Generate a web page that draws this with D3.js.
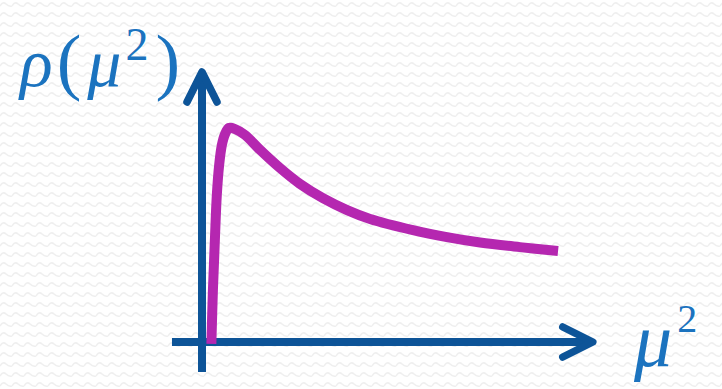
<!DOCTYPE html>
<html>
<head>
<meta charset="utf-8">
<script src="https://cdn.jsdelivr.net/npm/d3@7"></script>
<style>
  html, body { margin: 0; padding: 0; background: #ffffff; }
  svg { display: block; }
</style>
</head>
<body>
<div id="chart"></div>
<script>
// Spectral density rho(mu^2) sampled along mu^2
const muSq = [0.24, 0.28, 0.33, 0.38, 0.44, 0.51, 0.59, 0.69, 0.85, 1.10, 1.49, 2.00, 2.51, 3.10, 3.72, 4.31, 5.41, 6.28, 7.13, 8.15, 9.13];
const rho  = [-0.05, 1.35, 2.64, 3.81, 4.59, 5.11, 5.39, 5.55, 5.52, 5.37, 4.98, 4.51, 4.10, 3.73, 3.42, 3.19, 2.90, 2.72, 2.58, 2.46, 2.36];

// Axis extents in data units
const xAxisExtent = [-0.77, 10.02];
const yAxisExtent = [-0.78, 7.0];

const yLabel = ["ρ", "(", "μ", "2", ")"];
const xLabel = ["μ", "2"];

const W = 722, H = 389;
const axisColor = "#0d5498";
const curveColor = "#b527b0";
const labelColor = "#1b73bf";

const svg = d3.select("#chart").append("svg")
  .attr("width", W).attr("height", H);

// Faint wavy paper texture
const defs = svg.append("defs");
const pat = defs.append("pattern")
  .attr("id", "paper").attr("patternUnits", "userSpaceOnUse")
  .attr("width", 12).attr("height", 10);
pat.append("rect").attr("width", 12).attr("height", 10).attr("fill", "#ffffff");
pat.append("path")
  .attr("d", "M0,6 Q3,1 6,4 T12,6")
  .attr("fill", "none").attr("stroke", "#efefef").attr("stroke-width", 1.5);
svg.append("rect").attr("width", W).attr("height", H).attr("fill", "url(#paper)");

const x = d3.scaleLinear().domain([0, 10]).range([202, 592]);
const y = d3.scaleLinear().domain([0, 7]).range([342, 72]);

const g = svg.append("g");

// Axes with open arrowheads
const axisW = 8;
g.append("line")
  .attr("x1", x(xAxisExtent[0])).attr("y1", y(0))
  .attr("x2", x(xAxisExtent[1])).attr("y2", y(0))
  .attr("stroke", axisColor).attr("stroke-width", axisW);
g.append("line")
  .attr("x1", x(0)).attr("y1", y(yAxisExtent[0]))
  .attr("x2", x(0)).attr("y2", y(yAxisExtent[1]))
  .attr("stroke", axisColor).attr("stroke-width", axisW);

const xTip = [x(xAxisExtent[1]), y(0)];
const yTip = [x(0), y(yAxisExtent[1])];
const head = 30, spread = 15;
g.append("path")
  .attr("d", `M${xTip[0] - head},${xTip[1] - spread} L${xTip[0]},${xTip[1]} L${xTip[0] - head},${xTip[1] + spread}`)
  .attr("fill", "none").attr("stroke", axisColor).attr("stroke-width", 7.5)
  .attr("stroke-linecap", "round").attr("stroke-linejoin", "round");
g.append("path")
  .attr("d", `M${yTip[0] - spread},${yTip[1] + head} L${yTip[0]},${yTip[1]} L${yTip[0] + spread},${yTip[1] + head}`)
  .attr("fill", "none").attr("stroke", axisColor).attr("stroke-width", 7.5)
  .attr("stroke-linecap", "round").attr("stroke-linejoin", "round");

// Density curve
const pts = muSq.map((m, i) => [m, rho[i]]);
const line = d3.line()
  .x(d => x(d[0])).y(d => y(d[1]))
  .curve(d3.curveCatmullRom.alpha(0.5));
g.append("path")
  .datum(pts)
  .attr("d", line)
  .attr("fill", "none").attr("stroke", curveColor).attr("stroke-width", 10)
  .attr("stroke-linecap", "butt").attr("stroke-linejoin", "round");

// Labels
const font = "'Liberation Serif', 'DejaVu Serif', serif";
const yl = svg.append("text")
  .attr("x", 20).attr("y", 86)
  .attr("font-family", font).attr("font-size", 68)
  .attr("fill", labelColor);
yl.append("tspan").attr("font-style", "italic").text(yLabel[0]);
yl.append("tspan").attr("dx", 4).attr("font-size", 74).text(yLabel[1]);
yl.append("tspan").attr("dx", 6).attr("font-style", "italic").text(yLabel[2]);
yl.append("tspan").attr("font-size", 46).attr("dy", -26).attr("dx", 4).text(yLabel[3]);
yl.append("tspan").attr("dy", 26).attr("dx", 7).attr("font-size", 74).text(yLabel[4]);

const xl = svg.append("text")
  .attr("x", 634).attr("y", 366)
  .attr("font-family", font).attr("font-size", 76)
  .attr("fill", labelColor);
xl.append("tspan").attr("font-style", "italic").text(xLabel[0]);
xl.append("tspan").attr("font-size", 40).attr("dy", -34).attr("dx", 5).text(xLabel[1]);
</script>
</body>
</html>
